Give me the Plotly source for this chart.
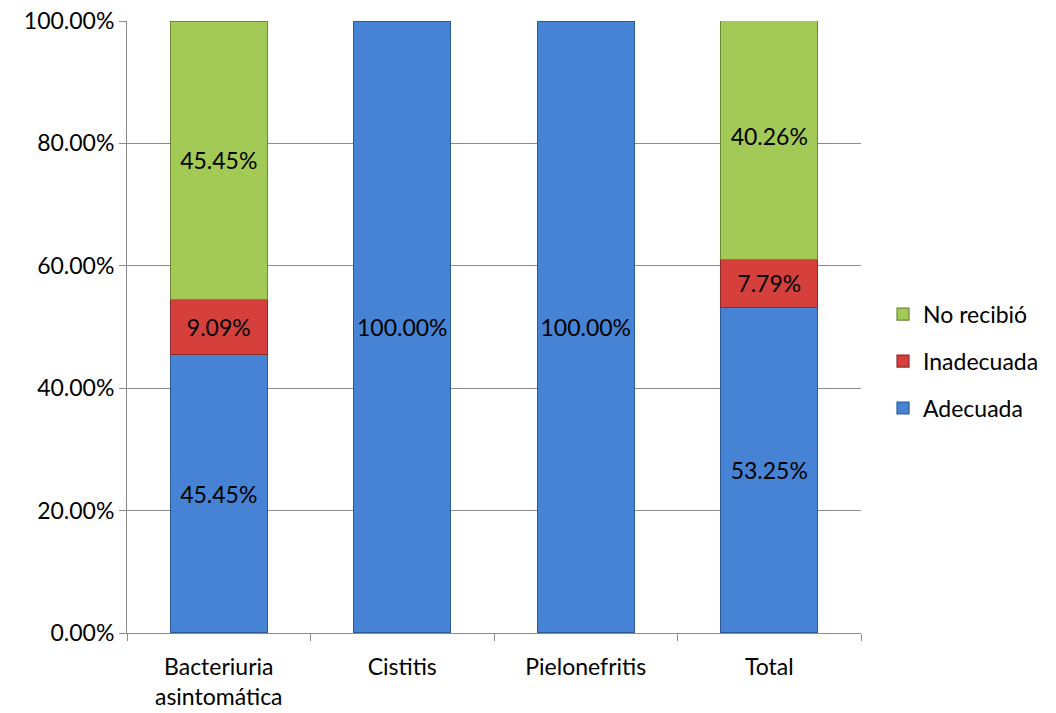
import plotly.graph_objects as go

categories = ["Bacteriuria<br>asintomática", "Cistitis", "Pielonefritis", "Total"]
adecuada = [45.45, 100.00, 100.00, 53.25]
inadecuada = [9.09, None, None, 7.79]
no_recibio = [45.45, None, None, 40.26]

# name, values, fill, outline, legend rank
series = [
    ("Adecuada", adecuada, "#4683d4", "#2c5a94", 3),
    ("Inadecuada", inadecuada, "#d5403d", "#8f2a28", 2),
    ("No recibió", no_recibio, "#a3c957", "#6b8a33", 1),
]

FONT = "Lato, 'Open Sans', sans-serif"
FS = 23

fig = go.Figure()
for name, vals, fill, edge, rank in series:
    fracs = [None if v is None else v / 100 for v in vals]
    fig.add_trace(go.Bar(
        name=name,
        legendgroup=name,
        legendrank=rank,
        x=categories,
        y=fracs,
        text=["" if v is None else f"{v:.2f}%" for v in vals],
        textposition="inside",
        insidetextanchor="middle",
        textangle=0,
        constraintext="none",
        textfont=dict(family=FONT, size=FS, color="#000000"),
        marker=dict(color=fill, line=dict(color=edge, width=1.2)),
        width=0.53,
        cliponaxis=True,
    ))

fig.update_layout(
    barmode="stack",
    width=1056,
    height=713,
    margin=dict(l=127, r=195, t=21, b=80),
    paper_bgcolor="white",
    plot_bgcolor="white",
    font=dict(family=FONT, size=FS, color="#000000"),
    legend=dict(
        traceorder="grouped",
        x=1.03, xanchor="left",
        y=0.444, yanchor="middle",
        font=dict(family=FONT, size=FS),
        itemwidth=30,
        tracegroupgap=14,
    ),
    showlegend=True,
)

fig.update_yaxes(
    range=[0, 1],
    tickvals=[0, 0.2, 0.4, 0.6, 0.8, 1.0],
    tickformat=".2%",
    showgrid=True,
    gridcolor="#8c8c8c",
    gridwidth=1,
    showline=True,
    linecolor="#8c8c8c",
    linewidth=1,
    ticks="outside",
    ticklen=7,
    tickcolor="#8c8c8c",
    zeroline=False,
    automargin=False,
    tickfont=dict(family=FONT, size=FS),
)
fig.update_xaxes(
    showline=True,
    linecolor="#8c8c8c",
    linewidth=1,
    ticks="outside",
    tickson="boundaries",
    ticklen=7,
    tickcolor="#8c8c8c",
    showgrid=False,
    automargin=False,
    ticklabelstandoff=13,
    tickfont=dict(family=FONT, size=FS),
)

fig.write_html("out.html")
